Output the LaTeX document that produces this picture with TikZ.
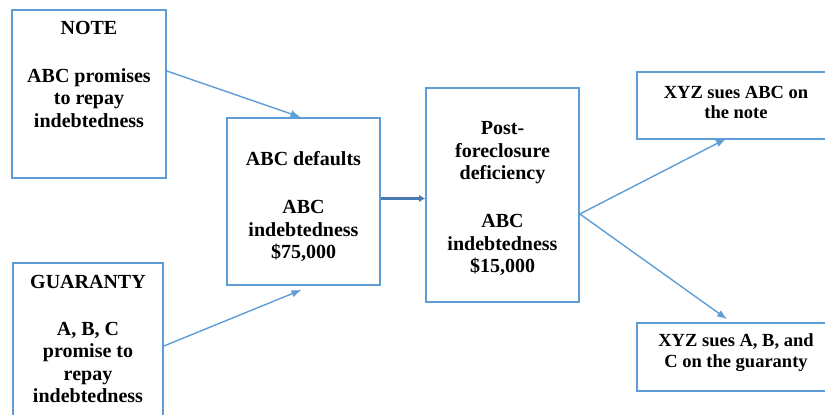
\documentclass[tikz,border=0pt]{standalone}
\usepackage{fontspec}
\setmainfont{Liberation Serif}
\usetikzlibrary{arrows.meta,positioning}

\begin{document}
\begin{tikzpicture}[x=1pt,y=-1pt,
    box/.style={draw=boxblue, line width=1.7pt, inner sep=0pt,
                font=\bfseries\fontsize{20}{22.5}\selectfont},
    smallbox/.style={box, draw=none, font=\bfseries\fontsize{18.5}{20.5}\selectfont},
    edge/.style={draw=boxblue, line width=1.7pt},
    link/.style={draw=boxblue, line width=1.4pt, -{Latex[length=10pt,width=7.5pt]}}]
    \definecolor{boxblue}{RGB}{95,157,214}
    \definecolor{darkblue}{RGB}{72,121,180}

    \useasboundingbox (0,0) rectangle (825,415);

    % left column
    \node[box] (note) at (89,94)
        {\parbox[c][168pt][t]{154pt}{\centering\vspace*{10.8pt}NOTE\\[25.5pt]
         ABC promises\\to repay\\indebtedness}};
    \node[box] (guaranty) at (88,354)
        {\parbox[c][182pt][t]{150pt}{\centering\vspace*{11.8pt}GUARANTY\\[24.5pt]
         A, B, C\\promise to\\repay\\indebtedness}};

    % middle
    \node[box] (defaults) at (303.5,201.5)
        {\parbox[c][167pt][t]{153pt}{\centering\vspace*{33.5pt}ABC defaults\\[25.5pt]
         ABC\\indebtedness\\\$75,000}};
    \node[box] (deficiency) at (502.5,195)
        {\parbox[c][214pt][t]{153pt}{\centering\vspace*{33.8pt}Post-\\foreclosure\\deficiency\\[25.5pt]
         ABC\\indebtedness\\\$15,000}};

    % right column (cut off by the edge, so no right side)
    \node[smallbox] (suenote) at (748,105.5)
        {\parbox[c][65pt][t]{220pt}{\vspace*{12.8pt}\parbox[t]{196pt}{\centering
         XYZ sues ABC on\\the note}}};
    \node[smallbox] (sueguar) at (748,357)
        {\parbox[c][66pt][t]{220pt}{\vspace*{10pt}\parbox[t]{196pt}{\centering
         XYZ sues A, B, and\\C on the guaranty}}};
    \draw[edge] (suenote.north east) -| (suenote.south west) -- (suenote.south east);
    \draw[edge] (sueguar.north east) -| (sueguar.south west) -- (sueguar.south east);

    % arrows
    \draw[link] ([yshift=23pt]note.east) -- ([xshift=-3pt]defaults.north);
    \draw[link] ([yshift=8pt]guaranty.east) -- ([xshift=-2pt,yshift=-4pt]defaults.south);
    \draw[darkblue, line width=3pt, -{Latex[length=6pt,width=7.5pt]}]
        ([yshift=3pt]defaults.east) -- ([yshift=3pt]defaults.east -| deficiency.west);

    \coordinate (split) at ([yshift=-19pt]deficiency.east);
    \draw[link] (split) -- ([xshift=-22pt]suenote.south);
    \draw[link] (split) -- ([xshift=-21pt,yshift=4pt]sueguar.north);
\end{tikzpicture}
\end{document}
